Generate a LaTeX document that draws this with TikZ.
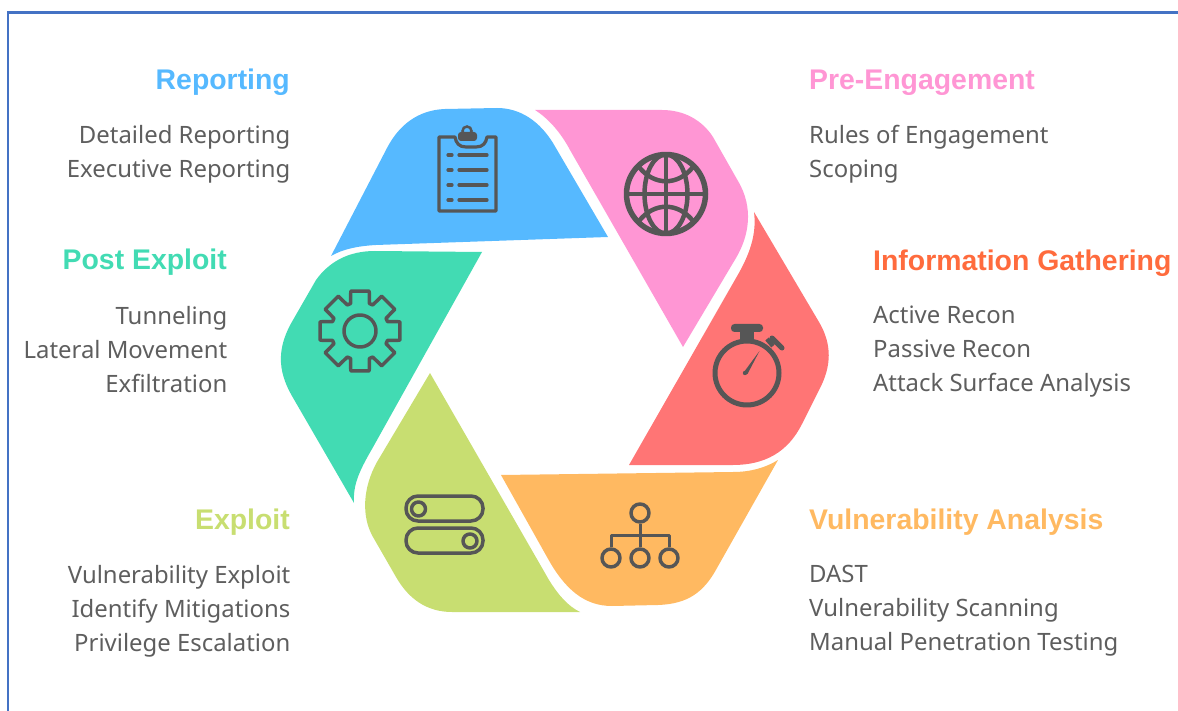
\documentclass[tikz,border=0pt]{standalone}
\usepackage{fontspec}
\setmainfont{Noto Sans}
\newfontfamily\headfont{Liberation Sans}
\definecolor{iconcol}{HTML}{565656}
\definecolor{textcol}{HTML}{5E5E5E}
\definecolor{framecol}{HTML}{4472C4}
\definecolor{bluecol}{HTML}{56B9FF}
\definecolor{pinkcol}{HTML}{FF96D4}
\definecolor{redcol}{HTML}{FF7575}
\definecolor{orangecol}{HTML}{FFB961}
\definecolor{limecol}{HTML}{C8DE71}
\definecolor{tealcol}{HTML}{42DBB3}
\definecolor{gathercol}{HTML}{FF6B3D}
\tikzset{
  headlabel/.style={inner sep=0pt,font=\headfont\bfseries\fontsize{28.4}{30}\selectfont},
  itemlabel/.style={inner sep=0pt,text=textcol,font=\fontsize{23.9}{34}\selectfont},
  iconline/.style={draw=iconcol,line width=3.5pt,line join=round},
}
\begin{document}
\begin{tikzpicture}[x=1pt,y=-1pt]
  \useasboundingbox (0,0) rectangle (1178,711);
  \draw[framecol,line width=2.5pt] (8,711)--(8,12.5)--(1178,12.5);

  \fill[bluecol] (331,256)--(387,148) .. controls (399,125) and (418,110) .. (445,109)
    --(497,108) .. controls (521,108) and (540,122) .. (553,143)--(608,237)--(376,245)
    .. controls (358,246) and (343,249) .. cycle;
  \fill[pinkcol] (535,110)--(662,110) .. controls (684,110) and (702,120) .. (713,137)
    --(738,181) .. controls (754,208) and (749,236) .. (736,258)--(683,347)--(570,150)
    .. controls (561,133) and (549,119) .. cycle;
  \fill[redcol] (754,212)--(819,322) .. controls (832,344) and (832,366) .. (819,390)
    --(802,424) .. controls (788,452) and (765,465) .. (733,465)--(629,465)--(736,278)
    .. controls (749,256) and (757,235) .. cycle;
  \fill[orangecol] (778,460) .. controls (765,468) and (750,472) .. (733,472)--(501,475)
    --(547,557) .. controls (565,590) and (585,606) .. (612,606)--(658,605)
    .. controls (688,604) and (704,592) .. (717,568)--cycle;
  \fill[limecol] (430,373)--(549,580) .. controls (559,596) and (568,606) .. (580,612)
    --(452,612) .. controls (426,612) and (408,598) .. (396,577)--(373,537)
    .. controls (361,516) and (363,487) .. (377,462)--cycle;
  \fill[tealcol] (482,252)--(375,251) .. controls (348,251) and (329,262) .. (316,280)
    --(293,320) .. controls (277,347) and (277,370) .. (292,396)--(354,503)
    .. controls (353,486) and (358,473) .. (372,449)--cycle;

  \draw[iconline,line width=3.2pt] (439,137)--(455,137) .. controls (456,143) and (459,147) .. (466,147)
    --(476,147) .. controls (483,147) and (486,143) .. (487,137)--(496,137)--(496,211)--(439,211)--cycle;
  \fill[iconcol,rounded corners=3pt] (458,132) rectangle (477,141);
  \draw[iconcol,line width=2.5pt] (467,131) circle (4.5);
  \foreach \ly in {155,170,185,200} {
    \draw[iconcol,line width=3.2pt,line cap=round] (448,\ly)--(452,\ly);
    \draw[iconcol,line width=3.2pt,line cap=round] (459,\ly)--(487,\ly);
  }

  \begin{scope}[shift={(666,194)}]
    \draw[iconline,line width=5.5pt] (0,0) circle (39.5);
    \draw[iconline,line width=4.5pt] (0,0) ellipse (21.5 and 39.5);
    \draw[iconline,line width=4.5pt] (0,-39.5)--(0,39.5) (-39.5,0)--(39.5,0);
    \draw[iconline,line width=4.5pt] (-27,-27) .. controls (-12,-8) and (12,-8) .. (27,-27);
    \draw[iconline,line width=4.5pt] (-27,27) .. controls (-12,8) and (12,8) .. (27,27);
  \end{scope}

  \begin{scope}[shift={(747,373)}]
    \draw[iconline,line width=5pt] (0,0) circle (32);
    \fill[iconcol,rounded corners=3.5pt] (-16,-49) rectangle (16,-41);
    \fill[iconcol] (-7,-43) rectangle (7,-31);
    \draw[iconcol,line width=4.5pt] (20,-34)--(26,-27);
    \draw[iconcol,line width=5pt,line cap=round] (25,-35)--(35,-25);
    \fill[iconcol] (-2,0) circle (2.2);
    \fill[iconcol] (-3,-1)--(12.5,-22)--(0.5,1)--cycle;
  \end{scope}

  \begin{scope}[shift={(360,331)}]
    \draw[iconline] (-19:29) \foreach \ang in {0,45,...,315} {
      --(\ang-19:29)--(\ang-13:41)--(\ang+13:41)--(\ang+19:29)
    } --cycle;
    \draw[iconline] (0,0) circle (16);
  \end{scope}

  \draw[iconline,rounded corners=12pt] (406,496) rectangle (483,521);
  \draw[iconline,rounded corners=12pt] (406,528) rectangle (483,553);
  \draw[iconline] (418.5,509) circle (7);
  \draw[iconline] (470,541) circle (7);

  \node[circle,iconline,minimum size=18pt,inner sep=0pt] (hubtop) at (640,513) {};
  \node[circle,iconline,minimum size=18pt,inner sep=0pt] (hubleft) at (611,558) {};
  \node[circle,iconline,minimum size=18pt,inner sep=0pt] (hubmid) at (640,558) {};
  \node[circle,iconline,minimum size=18pt,inner sep=0pt] (hubright) at (669,558) {};
  \coordinate (hubjoin) at (640,535);
  \draw[iconline,line width=3pt] (hubtop)--(hubmid);
  \draw[iconline,line width=3pt] (hubleft)--(hubleft|-hubjoin)--(hubright|-hubjoin)--(hubright);

  \node[headlabel,bluecol,anchor=east] (reporthead) at (290,82.5) {Reporting};
  \node[itemlabel,align=right,anchor=north east] (reportlist) at (290.5,125) {Detailed Reporting\\Executive Reporting};
  \node[headlabel,tealcol,anchor=east] (posthead) at (227,262.5) {Post Exploit};
  \node[itemlabel,align=right,anchor=north east] (postlist) at (227.5,306) {Tunneling\\Lateral Movement\\Exfiltration};
  \node[headlabel,limecol,anchor=east] (exploithead) at (290,522.5) {Exploit};
  \node[itemlabel,align=right,anchor=north east] (exploitlist) at (290.5,565) {Vulnerability Exploit\\Identify Mitigations\\Privilege Escalation};
  \node[headlabel,pinkcol,anchor=west] (prehead) at (809,82.5) {Pre-Engagement};
  \node[itemlabel,align=left,anchor=north west] (prelist) at (809,125) {Rules of Engagement\\Scoping};
  \node[headlabel,gathercol,anchor=west] (gatherhead) at (873,263.5) {Information Gathering};
  \node[itemlabel,align=left,anchor=north west] (gatherlist) at (873,306) {Active Recon\\Passive Recon\\Attack Surface Analysis};
  \node[headlabel,orangecol,anchor=west] (vulnhead) at (809,522.5) {Vulnerability Analysis};
  \node[itemlabel,align=left,anchor=north west] (vulnlist) at (809,565) {DAST\\Vulnerability Scanning\\Manual Penetration Testing};
\end{tikzpicture}
\end{document}
